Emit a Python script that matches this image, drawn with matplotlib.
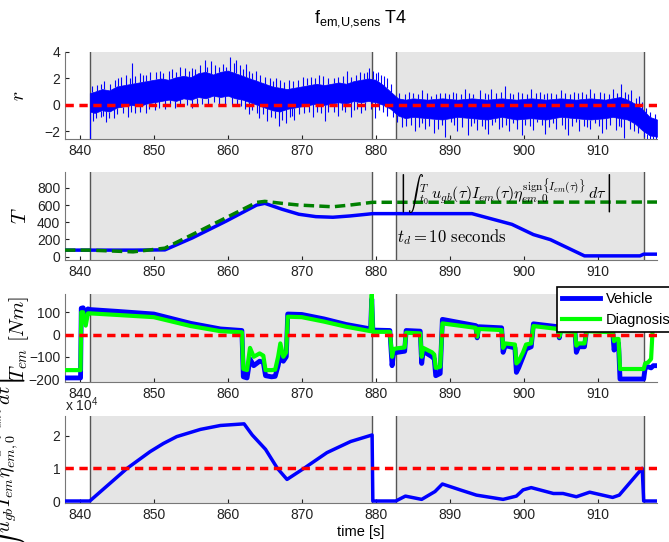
import numpy as np
import matplotlib
matplotlib.use("Agg")
import matplotlib.pyplot as plt
from matplotlib.ticker import FuncFormatter

plt.rcParams["font.family"] = ["Liberation Sans", "DejaVu Sans"]
plt.rcParams["mathtext.fontset"] = "cm"
plt.rcParams["mathtext.rm"] = "Liberation Sans"
plt.rcParams["mathtext.it"] = "Liberation Sans:italic"

# grey windows (diagnosis active)
win_start = [841.35, 882.75]
win_end = [879.55, 916.2]

# panel 1: residual r, core band + spikes
r_t = [841.35, 842, 843, 844, 845, 846, 847, 848, 849, 850, 851, 852, 853, 854, 855,
       856, 857, 858, 859, 860, 861, 862, 863, 864, 865, 866, 867, 868, 869, 870,
       871, 872, 873, 874, 875, 876, 877, 878, 879, 880, 881, 882, 883, 884, 885,
       887, 889, 891, 893, 895, 897, 899, 901, 903, 905, 907, 909, 911, 912, 913,
       914, 915, 916, 917, 918]
r_lo = [-0.5, -0.6, -0.4, -0.5, -0.2, -0.1, 0.0, -0.1, 0.1, 0.2, 0.3, 0.4, 0.3, 0.5, 0.4,
        0.6, 0.5, 0.7, 0.6, 0.7, 0.5, 0.4, 0.2, 0.0, -0.2, -0.4, -0.5, -0.3, -0.2, -0.1,
        0.0, 0.1, 0.0, 0.1, 0.2, 0.1, 0.3, 0.2, 0.3, 0.2, 0.0, -0.3, -0.8, -1.0, -0.9,
        -1.0, -1.1, -0.9, -1.0, -1.1, -0.9, -1.1, -1.0, -1.1, -0.9, -1.0, -1.1, -1.0, -0.9, -1.0,
        -1.1, -1.4, -1.9, -2.3, -2.4]
r_hi = [0.9, 1.0, 1.2, 1.1, 1.4, 1.5, 1.6, 1.7, 1.8, 1.9, 2.0, 1.9, 2.1, 2.2, 2.1,
        2.4, 2.5, 2.3, 2.5, 2.6, 2.4, 2.2, 2.0, 1.8, 1.6, 1.4, 1.3, 1.2, 1.3, 1.4,
        1.5, 1.6, 1.5, 1.6, 1.7, 1.6, 1.8, 1.9, 2.0, 1.9, 1.5, 1.0, 0.5, 0.4, 0.5,
        0.4, 0.5, 0.4, 0.5, 0.4, 0.5, 0.4, 0.5, 0.4, 0.5, 0.4, 0.5, 0.4, 0.5, 0.6,
        0.4, 0.1, -0.3, -0.9, -1.1]
up_t = [845.2, 847.1, 848.5, 850.3, 852.0, 853.6, 855.1, 856.9, 857.7, 858.8, 860.3, 861.1,
        862.4, 863.8, 866.5, 868.3, 870.2, 872.3, 874.4, 876.1, 877.9, 879.1, 880.3, 881.1,
        884.5, 886.3, 888.7, 890.4, 892.0, 894.1, 895.6, 897.5, 899.2, 901.0, 903.1, 905.0,
        906.8, 908.9, 910.3, 912.1, 913.2, 914.5, 915.6,
        841.7, 842.3, 842.9, 843.3, 844.1, 844.8, 845.6, 846.2, 846.8, 847.5, 848.1, 849.0,
        849.5, 850.8, 851.3, 852.5, 853.0, 854.2, 854.7, 855.6, 856.3, 857.2, 858.3, 859.3,
        859.8, 860.8, 861.6, 862.0, 862.9, 863.3, 864.4, 865.0, 865.7, 866.1, 867.0, 867.6,
        868.8, 869.5, 870.7, 871.2, 871.8, 872.8, 873.5, 874.9, 875.5, 876.6, 877.3, 878.4,
        878.8, 879.6, 880.0, 880.7, 881.5, 882.0,
        883.2, 883.9, 885.0, 885.7, 886.9, 887.5, 888.1, 889.3, 889.9, 890.9, 891.5, 892.6,
        893.2, 894.7, 895.1, 896.2, 896.9, 898.1, 898.6, 899.8, 900.4, 901.6, 902.2, 902.7,
        903.7, 904.3, 905.6, 906.2, 907.3, 907.9, 908.4, 909.5, 910.9, 911.5, 912.6, 913.7,
        914.1, 915.1, 916.0, 916.5, 917.0, 917.7]
up_v = [2.0, 3.2, 2.3, 2.5, 2.6, 2.9, 2.8, 3.4, 3.3, 2.9, 3.6, 3.4,
        3.1, 2.6, 2.0, 1.9, 2.1, 2.3, 2.0, 2.6, 2.5, 2.8, 2.5, 2.2,
        1.0, 1.1, 0.9, 1.0, 1.2, 1.1, 1.2, 1.4, 1.0, 1.2, 0.9, 1.1,
        1.0, 1.2, 1.0, 1.2, 1.6, 1.1, 0.7,
        1.4, 1.5, 1.6, 1.8, 1.6, 1.9, 2.1, 2.3, 2.0, 2.2, 2.4, 2.3,
        2.5, 2.6, 2.4, 2.7, 2.5, 2.8, 2.6, 2.7, 3.0, 2.9, 3.0, 3.1,
        2.9, 3.2, 3.0, 2.7, 2.6, 2.4, 2.3, 2.1, 2.0, 1.8, 1.9, 1.7,
        1.8, 1.9, 2.0, 2.1, 2.0, 2.2, 2.0, 2.1, 2.2, 2.1, 2.3, 2.4,
        2.5, 2.6, 2.4, 2.3, 2.0, 1.6,
        0.9, 0.8, 0.9, 0.8, 0.9, 0.7, 0.8, 0.9, 0.8, 0.9, 0.8, 0.9,
        0.8, 0.9, 0.8, 0.9, 1.0, 0.9, 0.8, 0.9, 0.8, 0.9, 1.0, 0.8,
        0.9, 0.8, 0.9, 0.8, 0.9, 1.0, 0.8, 0.9, 0.9, 0.8, 0.9, 1.0,
        0.8, 0.5, 0.2, -0.2, -0.5, -0.7]
dn_t = [841.4, 841.8, 843.5, 844.6, 846.5, 848.9, 851.5, 855.8, 860.5, 862.8, 864.2, 865.3,
        866.9, 867.8, 869.0, 871.5, 873.1, 874.9, 876.6, 878.0, 879.9, 881.5, 883.6, 885.3,
        886.7, 887.9, 889.4, 891.0, 892.4, 893.7, 895.1, 896.6, 898.0, 899.7, 901.3, 902.9,
        904.4, 906.0, 907.5, 909.0, 910.6, 912.4, 913.6, 914.9, 916.7, 917.4,
        842.2, 842.8, 843.1, 844.0, 845.0, 845.8, 846.9, 847.4, 848.2, 849.4, 850.1, 850.7,
        852.2, 852.8, 853.6, 854.5, 855.2, 856.5, 857.3, 858.1, 858.8, 859.6, 861.2, 861.8,
        862.3, 863.3, 863.9, 864.7, 865.8, 866.4, 867.3, 868.4, 868.7, 869.6, 870.3, 871.0,
        872.1, 872.6, 873.6, 874.3, 875.4, 875.9, 877.1, 877.5, 878.6, 879.3, 880.4, 881.0,
        882.3, 882.9,
        884.1, 884.7, 885.8, 886.3, 887.2, 888.4, 888.9, 890.1, 890.6, 891.6, 892.9, 893.3,
        894.3, 894.8, 895.7, 896.1, 897.1, 897.6, 898.5, 899.1, 900.2, 900.8, 901.8, 902.4,
        903.4, 903.9, 905.1, 905.5, 906.5, 907.0, 908.1, 908.6, 909.6, 910.2, 911.1, 911.7,
        912.9, 913.2, 914.3, 915.4, 916.2, 917.0, 917.8]
dn_v = [-2.6, -1.2, -1.3, -1.0, -0.9, -0.6, -0.3, -0.1, 0.0, -0.7, -1.0, -1.2,
        -1.6, -1.4, -1.1, -0.9, -1.2, -0.8, -0.9, -0.6, -1.0, -0.8, -1.7, -2.0,
        -1.8, -2.1, -2.4, -2.0, -2.3, -1.9, -2.2, -1.8, -2.0, -2.3, -1.9, -2.2,
        -1.8, -2.3, -2.0, -1.8, -2.1, -1.9, -2.5, -2.0, -2.6, -2.6,
        -1.0, -0.9, -0.8, -1.0, -0.7, -0.6, -0.5, -0.6, -0.5, -0.3, -0.4, -0.2,
        -0.1, -0.2, -0.1, 0.0, -0.2, 0.1, 0.0, 0.2, 0.0, 0.1, 0.0, -0.1,
        -0.3, -0.4, -0.6, -0.7, -0.9, -1.0, -1.1, -0.9, -0.8, -0.7, -0.6, -0.5,
        -0.5, -0.6, -0.5, -0.5, -0.4, -0.5, -0.4, -0.3, -0.4, -0.3, -0.4, -0.5,
        -0.9, -1.3,
        -1.6, -1.5, -1.7, -1.4, -1.6, -1.8, -1.5, -1.3, -1.5, -1.7, -1.6, -1.4,
        -1.6, -1.8, -1.5, -1.3, -1.7, -1.5, -1.4, -1.8, -1.5, -1.6, -1.3, -1.5,
        -1.7, -1.4, -1.5, -1.8, -1.6, -1.3, -1.6, -1.7, -1.4, -1.6, -1.8, -1.5,
        -1.6, -1.7, -1.8, -2.1, -2.4, -2.6, -2.6]

# panel 2: test quantity T and threshold
T_t = [838.0, 841.35, 847.2, 851.5, 855.2, 859.8, 863.9, 865.0, 867.3, 869.6, 871.9, 874.2,
       876.5, 878.8, 879.55, 893.0, 898.4, 901.3, 903.6, 908.2, 915.7, 916.2, 918.0]
T_val = [75, 75, 75, 78, 217, 414, 600, 620, 552, 493, 465, 458,
         473, 493, 500, 500, 375, 256, 197, 8, 8, 28, 28]
thr_t = [838.0, 841.35, 847.2, 851.5, 855.2, 859.8, 863.9, 865.0, 867.3, 869.6, 874.2,
         876.5, 879.55, 918.0]
thr_val = [75, 75, 55, 98, 256, 454, 631, 643, 620, 600, 580, 600, 632, 635]

# panel 3: electric machine torque
tq_t = [838.0, 840.1, 840.2, 840.45, 840.8, 841.1, 841.4, 845.0, 850.0, 855.0, 859.0, 861.9,
        862.1, 862.6, 863.0, 863.5, 864.3, 864.8, 865.1, 865.9, 866.4, 866.8, 867.1, 867.5,
        867.9, 868.1, 870.0, 873.0, 876.0, 879.3, 879.45, 879.6, 881.9,
        882.2, 882.4, 882.9, 883.9, 884.1, 886.0, 886.2, 886.4, 887.6, 887.9, 888.1, 888.7,
        889.0, 893.5, 893.7, 893.9, 897.0, 897.2, 897.5, 898.8, 899.0, 899.3, 899.9, 900.3,
        901.0, 901.3, 904.6, 904.8, 905.0, 906.9, 907.1, 907.4, 908.2, 908.5,
        912.0, 912.2, 912.4, 912.8, 913.0, 916.2, 916.4, 916.8, 917.2, 917.5, 918.0]
tq_vehicle = [-195, -195, 118, 120, 85, 115, 112, 104, 92, 50, 25, 18,
              -190, -195, -110, -140, -120, -125, -185, -190, -188, -140, -90, -120,
              -100, 92, 90, 70, 45, 25, 160, 20, 18,
              -140, -85, -80, -75, 18, 15, -130, -75, -100, -110, -185, -175,
              68, 40, -15, 35, 30, -80, -50, -60, -170, -150, -100, -65,
              -55, 48, 35, -15, 25, 22, -80, -55, -55, 25,
              20, -70, -40, -40, -200, -200, -150, -145, -150, -140, -140]
tq_diag = [-160, -160, 100, 100, 40, 95, 95, 88, 78, 38, 15, 10,
           -155, -160, -60, -100, -85, -95, -160, -160, -158, -100, -40, -100,
           -80, 80, 78, 58, 35, 15, 180, 12, 12,
           -100, -65, -62, -58, 8, 5, -100, -60, -80, -90, -150, -145,
           50, 30, -10, 25, 20, -60, -40, -45, -130, -120, -80, -45,
           -40, 38, 25, -10, 15, 12, -50, -40, -40, 15,
           10, -30, -20, -20, -155, -155, -130, -125, -110, 80, 80]

# panel 4: integrated power
P_t = [838.0, 841.35, 846.4, 849.5, 851.3, 853.1, 856.3, 859.0, 862.2, 863.3, 865.1, 866.7,
       868.0, 870.3, 873.4, 876.6, 879.5, 879.6, 882.7, 884.0, 886.2, 888.0, 889.0, 891.4,
       893.6, 897.2, 899.0, 899.9, 901.0, 904.0, 905.3, 907.1, 908.9, 912.0, 912.9, 916.0,
       916.2, 918.0]
P_val = [0, 0, 10000, 15100, 17600, 19700, 21900, 23100, 23600, 20200, 15800, 10000,
         6600, 10000, 14800, 18200, 20200, 0, 0, 1500, 500, 2900, 5200, 3400,
         1800, 500, 1500, 3400, 4100, 2300, 2300, 1300, 2700, 1100, 1800, 10000,
         0, 0]

xlim = (838.0, 918.0)
xticks = [840, 850, 860, 870, 880, 890, 900, 910]

fig = plt.figure(figsize=(6.69, 5.42), dpi=100)
L, W = 65 / 669, 592 / 669
rows = [(52, 138.7), (172, 260), (294, 381.7), (416, 503.3)]
axes = [fig.add_axes([L, 1 - b / 542, W, (b - t) / 542]) for t, b in rows]

for ax in axes:
    for s, e in zip(win_start, win_end):
        ax.axvspan(s, e, facecolor="#e5e5e5", edgecolor="none", zorder=0)
        ax.axvline(s, color="#555555", lw=1, zorder=1)
        ax.axvline(e, color="#555555", lw=1, zorder=1)
    ax.set_xlim(*xlim)
    ax.set_xticks(xticks)
    ax.tick_params(direction="in", length=3, labelsize=10, colors="#222222")
    for sp in ["top", "right"]:
        ax.spines[sp].set_visible(False)
    for sp in ["left", "bottom"]:
        ax.spines[sp].set_color("#777777")

red = dict(color="red", lw=2.5, ls=(0, (2.4, 1.6)), zorder=5)

# 1
ax = axes[0]
ax.fill_between(r_t, r_lo, r_hi, color="blue", lw=0.5, zorder=3)
ax.vlines(up_t, np.interp(up_t, r_t, r_hi), up_v, color="blue", lw=0.8, zorder=3)
ax.vlines(dn_t, dn_v, np.interp(dn_t, r_t, r_lo), color="blue", lw=0.8, zorder=3)
ax.axhline(0, **red)
ax.set_ylim(-2.55, 4)
ax.set_yticks([-2, 0, 2, 4])
ax.set_ylabel(r"$r$", fontsize=14)
ax.yaxis.set_label_coords(-0.062, 0.5)

# 2
ax = axes[1]
ax.plot(T_t, T_val, color="blue", lw=2.5, zorder=3)
ax.plot(thr_t, thr_val, color="#008000", lw=2.5, ls=(0, (3, 1.5)), zorder=4)
ax.set_ylim(-40, 985)
ax.set_yticks([0, 200, 400, 600, 800])
ax.set_ylabel(r"$T$", fontsize=15)
ax.yaxis.set_label_coords(-0.059, 0.5)
ax.text(882.85, 985, r"$\left|\int\,{}_{t_0}^{T}\,u_{gb}(\tau)I_{em}(\tau)\eta_{em,0}^{\mathrm{sign}\{I_{em}(\tau)\}}\,d\tau\right|$",
        fontsize=11.5, va="top", ha="left", zorder=6)
ax.text(882.85, 230, r"$t_d = 10\ \mathrm{seconds}$", fontsize=12, va="center", ha="left", zorder=6)

# 3
ax = axes[2]
ax.plot(tq_t, tq_vehicle, color="blue", lw=3.5, zorder=3, label="Vehicle")
ax.plot(tq_t, tq_diag, color="#00ff00", lw=3, zorder=4, label="Diagnosis")
ax.axhline(0, **red)
ax.set_ylim(-212, 182)
ax.set_yticks([-200, -100, 0, 100])
ax.set_ylabel(r"$T_{em}\ [Nm]$", fontsize=15)
ax.yaxis.set_label_coords(-0.058, 0.5)
leg = ax.legend(loc="upper left", bbox_to_anchor=(557 / 669, 1 - 287 / 542),
                bbox_transform=fig.transFigure, borderaxespad=0, fancybox=False,
                framealpha=1, edgecolor="black", fontsize=10.5, handlelength=2.6,
                handletextpad=0.4, borderpad=0.35, labelspacing=0.45)
leg.get_frame().set_linewidth(1.2)
leg.set_zorder(10)

# 4
ax = axes[3]
ax.plot(P_t, P_val, color="blue", lw=2.5, zorder=3)
ax.axhline(10000, **red)
ax.set_ylim(-700, 26000)
ax.set_yticks([0, 10000, 20000])
ax.yaxis.set_major_formatter(FuncFormatter(lambda v, p: f"{v / 1e4:g}"))
ax.text(0.0, 1.02, r"x 10$^4$", transform=ax.transAxes, fontsize=10, va="bottom",
        ha="left", math_fontfamily="custom", color="#222222")
ax.set_ylabel(r"$\left|\int\,u_{gb}I_{em}\eta_{em,0}^{\mathrm{sign}\{I_{em}\}}dt\right|$", fontsize=14.5)
ax.yaxis.set_label_coords(-0.062, 0.4)
ax.set_xlabel("time [s]", fontsize=10.5, labelpad=2)

fig.suptitle(r"f$_{\rm em{,}U{,}sens}$ T4", x=(65 + 657) / 2 / 669, y=0.985, fontsize=13,
             va="top", math_fontfamily="custom")

fig.savefig("out.png", dpi=100)
